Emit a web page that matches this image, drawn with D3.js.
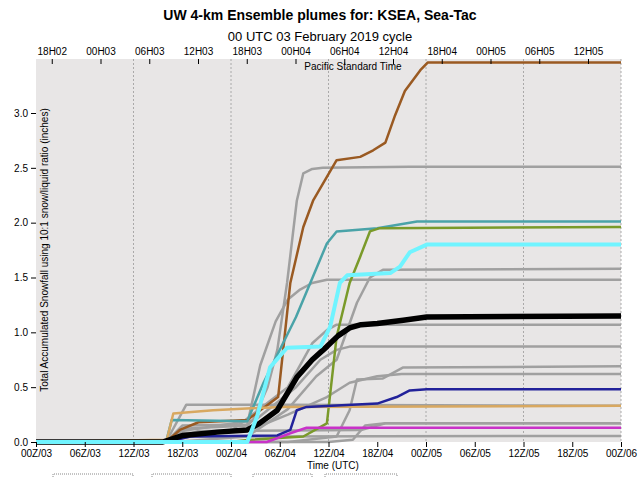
<!DOCTYPE html>
<html><head><meta charset="utf-8">
<script src="https://cdn.jsdelivr.net/npm/d3@7"></script>
<style>body{margin:0;background:#fff}svg{font-family:"Liberation Sans",Arial,sans-serif}</style>
</head><body><svg id="c" width="640" height="477"></svg>
<script>
const utcTicks=["00Z/03","06Z/03","12Z/03","18Z/03","00Z/04","06Z/04","12Z/04","18Z/04","00Z/05","06Z/05","12Z/05","18Z/05","00Z/06"];
const pstTicks=["18H02","00H03","06H03","12H03","18H03","00H04","06H04","12H04","18H04","00H05","06H05","12H05"];
const yTicks=[0,0.5,1,1.5,2,2.5,3];
// members: [hour, inches]
const grayMembers=[
 [[0,0],[16,0],[18,0.12],[26,0.15],[26.7,0.2],[28.5,0.5],[29.7,0.84],[30.9,1.45],[32.1,2.2],[32.9,2.45],[34,2.49],[35.3,2.5],[46,2.51],[72,2.51]],
 [[0,0],[16,0],[18,0.15],[26,0.16],[27.6,0.7],[29.5,1.1],[31,1.3],[32.5,1.39],[34,1.45],[35.8,1.48],[72,1.48]],
 [[0,0],[17,0],[26,0.05],[31,0.3],[34.5,0.6],[37,0.75],[39.5,1.27],[41.1,1.5],[42.7,1.57],[72,1.58]],
 [[0,0],[16,0],[18,0.08],[24,0.1],[31,0.5],[34,0.9],[35.8,1.02],[37,1.07],[72,1.07]],
 [[0,0],[16,0],[18,0.1],[27,0.2],[32,0.5],[35,0.75],[37,0.84],[38.6,0.87],[72,0.87]],
 [[0,0],[31,0],[37,0.05],[38.6,0.29],[39.5,0.57],[42.7,0.58],[45.2,0.68],[72,0.69]],
 [[0,0],[16,0],[20,0.08],[26,0.1],[31,0.25],[35.8,0.41],[38.6,0.54],[42,0.6],[45,0.62],[72,0.62]],
 [[0,0],[16,0],[18.5,0.34],[30,0.34],[72,0.33]],
 [[0,0],[16,0],[20,0.1],[40,0.11],[43,0.17],[72,0.17]],
 [[0,0],[16,0],[19,0.05],[72,0.055]],
 [[0,0],[36,0],[39,0.02],[40.5,0.15],[43,0.17],[72,0.17]]
];
const brown=[[0,0],[16,0],[17.7,0.11],[20,0.18],[26,0.2],[29.8,0.41],[31.3,1.45],[32.9,1.96],[34.1,2.2],[37,2.57],[39.9,2.6],[41.5,2.66],[43,2.73],[44.2,2.98],[45.4,3.2],[47.3,3.39],[48.2,3.46],[72,3.46]];
const teal=[[0,0],[16,0],[16.7,0.2],[26,0.19],[28,0.54],[32,1.14],[35.8,1.81],[37,1.92],[42,1.95],[46.9,2.01],[72,2.01]];
const olive=[[0,0],[23.9,0],[26.3,0.02],[32.9,0.05],[35.8,0.17],[37,0.96],[38.6,1.45],[39.9,1.69],[41.1,1.92],[42.3,1.95],[72,1.96]];
const tan=[[0,0],[16.1,0.02],[16.9,0.26],[21.8,0.29],[27.2,0.31],[30.4,0.32],[72,0.33]];
const magenta=[[0,0],[28.4,0],[31.3,0.08],[33.3,0.13],[72,0.13]];
const navy=[[0,0],[16,0],[19,0.05],[29.7,0.06],[31.3,0.11],[32.1,0.29],[33.3,0.32],[42,0.35],[44.4,0.41],[46,0.47],[48.1,0.48],[72,0.48]];
const cyan=[[0,0],[26,0],[27.2,0.23],[28.8,0.68],[30.9,0.86],[35,0.87],[36.2,1.05],[37.4,1.45],[38.3,1.52],[43.6,1.54],[44.8,1.6],[46,1.73],[48.1,1.8],[72,1.8]];
const mean=[[0,0],[15.6,0],[18.1,0.06],[22.3,0.09],[26,0.11],[27.5,0.17],[29.7,0.29],[32.1,0.59],[34,0.75],[35.8,0.87],[37.2,0.97],[38.6,1.04],[40,1.07],[42,1.08],[45.2,1.11],[48.1,1.14],[72,1.15]];

const svg=d3.select("#c");
const L=36,R=621,T=59,B=442;
const x=d3.scaleLinear().domain([0,72]).range([L,R]);
const y=d3.scaleLinear().domain([0,3]).range([B,B-329]);
svg.append("rect").attr("x",L).attr("y",T).attr("width",R-L).attr("height",B-T).attr("fill","#e8e6e6");
[12,24,36,48,60,72].forEach(h=>svg.append("line").attr("x1",x(h)).attr("x2",x(h)).attr("y1",T).attr("y2",B)
 .attr("stroke","#999").attr("stroke-dasharray","2,2").attr("stroke-width",0.8));
const line=d3.line().x(d=>x(d[0])).y(d=>y(d[1]));
const g=svg.append("g");
grayMembers.forEach(s=>g.append("path").attr("d",line(s)).attr("fill","none").attr("stroke","#a0a0a0").attr("stroke-width",2.5).attr("stroke-linejoin","round"));
[[brown,"#9a5a22",2.5],[teal,"#4aa3a8",2.5],[olive,"#7a9a2a",2.5],[tan,"#d8a860",2.5],[magenta,"#c832c8",2.5],[navy,"#22229a",2.5],[mean,"#000",5.5],[cyan,"#70f4ff",4]]
.forEach(([s,c,w])=>g.append("path").attr("d",line(s)).attr("fill","none").attr("stroke",c).attr("stroke-width",w).attr("stroke-linejoin","round"));
const xa=d3.axisBottom(x).tickValues(d3.range(0,73,6)).tickFormat((d,i)=>utcTicks[i]).tickSize(5).tickSizeOuter(0);
const gx=svg.append("g").attr("transform",`translate(0,${B})`).call(xa);
gx.select(".domain").remove();
gx.selectAll("text").attr("font-size",10).attr("fill","#000");
const ya=d3.axisLeft(y).tickValues(yTicks).tickFormat(d3.format(".1f")).tickSize(5);
const gy=svg.append("g").attr("transform",`translate(${L},0)`).call(ya);
gy.select(".domain").remove();
gy.selectAll("text").attr("font-size",10).attr("fill","#000");
pstTicks.forEach((t,i)=>{const h=2+6*i;
 svg.append("text").attr("x",x(h)).attr("y",55).attr("text-anchor","middle").attr("font-size",10).text(t);
 svg.append("line").attr("x1",x(h)).attr("x2",x(h)).attr("y1",T).attr("y2",T+5).attr("stroke","#000");});
svg.append("text").attr("x",353).attr("y",70).attr("text-anchor","middle").attr("font-size",10).text("Pacific Standard Time");
svg.append("text").attr("x",320).attr("y",20).attr("text-anchor","middle").attr("font-size",14).attr("font-weight","bold").text("UW 4-km Ensemble plumes for: KSEA, Sea-Tac");
svg.append("text").attr("x",320).attr("y",41).attr("text-anchor","middle").attr("font-size",13).text("00 UTC 03 February 2019 cycle");
svg.append("text").attr("x",333).attr("y",469).attr("text-anchor","middle").attr("font-size",10).text("Time (UTC)");
svg.append("text").attr("transform","translate(48,250) rotate(-90)").attr("text-anchor","middle").attr("font-size",10).text("Total Accumulated Snowfall using 10:1 snow/liquid ratio (inches)");
[[53,133],[152,231],[253,312],[325,397]].forEach(([a,b])=>{
 svg.append("path").attr("d",`M${a},477V474H${b}V477`).attr("fill","none").attr("stroke","#888").attr("stroke-dasharray","1,1");});
</script></body></html>
